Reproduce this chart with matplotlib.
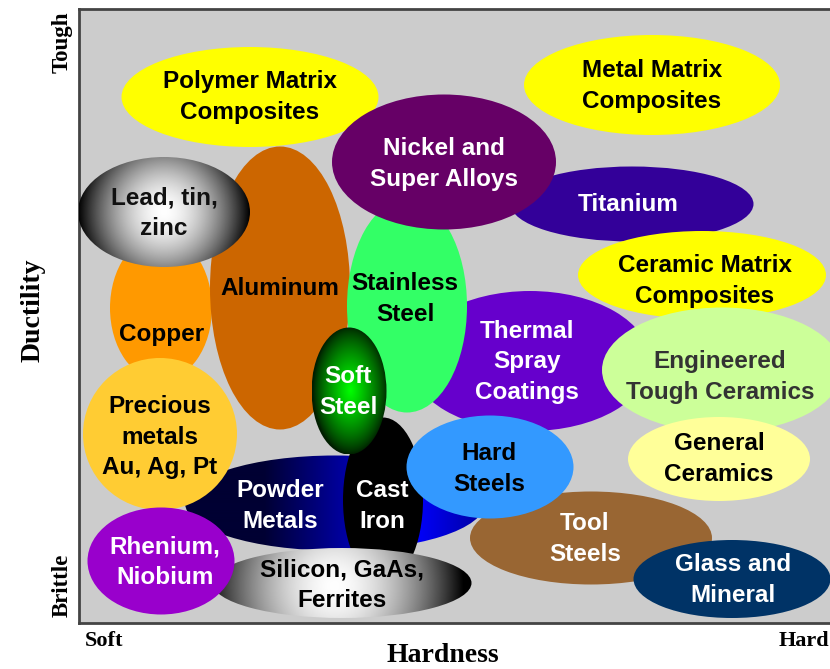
import numpy as np
import matplotlib
matplotlib.use("Agg")
import matplotlib.pyplot as plt
from matplotlib.patches import Ellipse

# material classes, in drawing order (bottom to top)
names = ["Polymer Matrix\nComposites", "Metal Matrix\nComposites", "Titanium",
         "Copper", "Aluminum", "Lead, tin,\nzinc", "Thermal\nSpray\nCoatings",
         "Stainless\nSteel", "Nickel and\nSuper Alloys", "Ceramic Matrix\nComposites",
         "Engineered\nTough Ceramics", "General\nCeramics", "Powder\nMetals",
         "Cast\nIron", "Soft\nSteel", "Precious\nmetals\nAu, Ag, Pt", "Tool\nSteels",
         "Hard\nSteels", "Glass and\nMineral", "Silicon, GaAs,\nFerrites", "Rhenium,\nNiobium"]

# relative hardness (0 soft .. 761 hard) and ductility (0 brittle .. 614 tough)
hard_mid = [171, 573, 553, 82, 201, 85, 451, 328, 365, 623, 643, 640, 256, 304, 270, 81, 512, 411, 653, 263, 82]
duct_mid = [526, 538, 419, 315, 335, 411, 262, 317, 461, 348, 253, 164, 120, 123, 232, 189, 85, 156, 44, 40, 62]
hard_span = [257, 256, 243, 102, 140, 172, 240, 120, 224, 248, 240, 182, 300, 80, 75, 154, 242, 167, 197, 259, 147]
duct_span = [100, 100, 75, 145, 283, 110, 140, 213, 135, 88, 125, 84, 95, 165, 127, 152, 93, 103, 78, 70, 107]

fills = ["#ffff00", "#ffff00", "#330099", "#ff9900", "#cc6600", "lead", "#6600cc",
         "#33ff66", "#660066", "#ffff00", "#ccff99", "#ffff99", "powder",
         "#000000", "soft", "#ffcc33", "#996633", "#3399ff", "#003366", "silicon", "#9900cc"]
text_colors = ["black", "black", "white", "black", "black", "#111111", "white",
               "black", "white", "black", "#333333", "black", "white",
               "white", "white", "black", "white", "black", "white", "black", "white"]

label_x = [171, 573, 549, 83, 201, 85, 448, 326, 365, 626, 641, 640, 201, 303, 269, 81, 506, 410, 654, 263, 86]
label_y = [526, 537, 418, 288, 334, 410, 261, 324, 459, 342, 246, 164, 117, 117, 231, 186, 84, 154, 43, 38, 61]

plt.rcParams['font.family'] = ['Liberation Sans', 'DejaVu Sans']

fig = plt.figure(figsize=(8.30, 6.69), dpi=100)
ax = fig.add_axes([79 / 830, 1 - 623 / 669, 761 / 830, 614 / 669])
ax.set_facecolor("#cccccc")


def gradient_fill(ax, cx, cy, w, h, kind, z):
    e = Ellipse((cx, cy), w, h, facecolor="none", edgecolor="none", zorder=z)
    ax.add_patch(e)
    xs = np.linspace(cx - w / 2, cx + w / 2, 300)
    ys = np.linspace(cy - h / 2, cy + h / 2, 300)
    X, Y = np.meshgrid(xs, ys)
    img = np.zeros(X.shape + (3,))
    if kind == "lead":
        r = np.clip(np.hypot(X - cx, Y - cy) / (w / 2), 0, 1)
        v = 1 - r ** 1.7
        img[..., 0] = v; img[..., 1] = v; img[..., 2] = v
    elif kind == "silicon":
        r = np.clip(np.hypot(X - cx + 8, Y - cy + 3) / (w / 2), 0, 1)
        v = 1 - r ** 1.7
        img[..., 0] = v; img[..., 1] = v; img[..., 2] = v
    elif kind == "soft":
        r = np.clip(np.hypot((X - cx - 1) / (w / 2), (Y - cy) / (h / 2)), 0, 1)
        img[..., 1] = 0.12 + 0.88 * (1 - r) ** 0.8
    elif kind == "powder":
        b = np.clip(1 - np.abs(X - 335) / 150, 0, 1)
        img[..., 2] = 0.2 + 0.8 * b
    im = ax.imshow(img, extent=(cx - w / 2, cx + w / 2, cy - h / 2, cy + h / 2),
                   origin="lower", zorder=z, interpolation="bilinear", aspect="auto")
    im.set_clip_path(e)


for i, name in enumerate(names):
    z = 2 + i
    if fills[i].startswith("#"):
        ax.add_patch(Ellipse((hard_mid[i], duct_mid[i]), hard_span[i], duct_span[i],
                             facecolor=fills[i], edgecolor="none", zorder=z))
    else:
        gradient_fill(ax, hard_mid[i], duct_mid[i], hard_span[i], duct_span[i], fills[i], z)

for i, name in enumerate(names):
    ax.text(label_x[i], label_y[i], name, ha="center", va="center", fontsize=17.5,
            fontweight="bold", color=text_colors[i], linespacing=1.4, zorder=50)

ax.set_xlim(0, 761)
ax.set_ylim(0, 614)
ax.set_xticks([])
ax.set_yticks([])
for s in ax.spines.values():
    s.set_color("#444444")
    s.set_linewidth(2)

serif = ['Liberation Serif', 'DejaVu Serif']
fig.text(33 / 830, 1 - 310 / 669, "Ductility", rotation=90, ha="center", va="center",
         fontsize=20, fontweight="bold", family=serif)
fig.text(62 / 830, 1 - 42 / 669, "Tough", rotation=90, ha="center", va="center",
         fontsize=16.5, fontweight="bold", family=serif)
fig.text(62 / 830, 1 - 585 / 669, "Brittle", rotation=90, ha="center", va="center",
         fontsize=16.5, fontweight="bold", family=serif)
fig.text(104 / 830, 1 - 641 / 669, "Soft", ha="center", va="center",
         fontsize=16, fontweight="bold", family=serif)
fig.text(804 / 830, 1 - 641 / 669, "Hard", ha="center", va="center",
         fontsize=16, fontweight="bold", family=serif)
fig.text(443 / 830, 1 - 655 / 669, "Hardness", ha="center", va="center",
         fontsize=20, fontweight="bold", family=serif)

fig.savefig("out.png", dpi=100)
